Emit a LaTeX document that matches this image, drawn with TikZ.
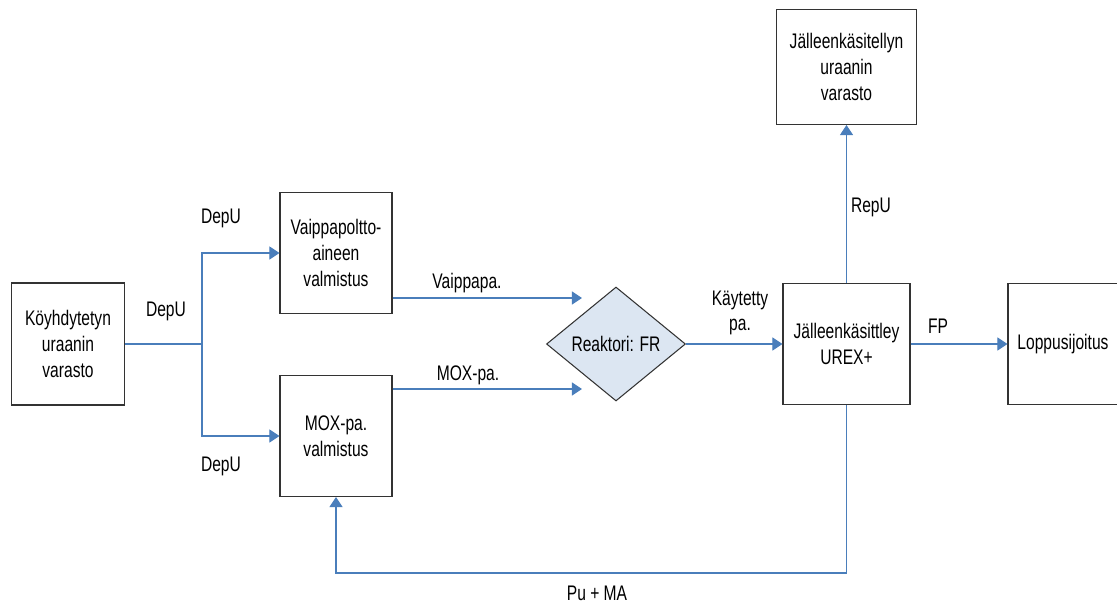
\documentclass[tikz,border=0pt]{standalone}
\usepackage{fontspec}
\setmainfont[FakeStretch=0.74]{Liberation Sans}
\usetikzlibrary{arrows.meta,shapes.geometric,positioning,calc}
\definecolor{flowblue}{RGB}{74,126,187}
\definecolor{reactfill}{RGB}{220,230,242}

\begin{document}
\begin{tikzpicture}[x=0.02cm, y=-0.02cm, font=\fontsize{12}{14.7}\selectfont,
  box/.style={draw=black!80, line width=0.6pt, align=center, inner sep=0pt, minimum width=2.24cm, minimum height=2.42cm},
  flow/.style={draw=flowblue, line width=0.6pt, -{Triangle[length=5.8pt, width=7.5pt, fill=flowblue]}},
  lbl/.style={inner sep=0pt, align=center}]
\useasboundingbox (0,0) rectangle (1117,602);
% laatikot
\node[box, minimum width=2.26cm, minimum height=2.44cm] (koyh) at (68,344) {Köyhdytetyn\\uraanin\\varasto};
\node[box] (vaip) at (336,253) {Vaippapoltto-\\aineen\\valmistus};
\node[box] (mox) at (336,436) {MOX-pa.\\valmistus};
\node[diamond, draw=black!80, fill=reactfill, line width=0.6pt, inner sep=0pt, minimum width=2.78cm, minimum height=2.28cm] (reak) at (616,344) {Reaktori: FR};
\node[box, minimum width=2.54cm] (urex) at (846.5,344) {Jälleenkäsittley\\UREX+};
\node[box, minimum width=2.8cm, minimum height=2.3cm] (repu) at (846.5,67) {Jälleenkäsitellyn\\uraanin\\varasto};
\node[box, minimum width=2.2cm] (lopp) at (1063,344) {Loppusijoitus};
% virrat
\coordinate (haara) at (202,344);
\coordinate (vin) at (582,298);
\coordinate (min) at (582,389);
\coordinate (ala) at (846.5,573);
\draw[flowblue, line width=0.6pt] (koyh) -- (haara);
\draw[flow] (haara) |- (vaip);
\draw[flow] (haara) |- (mox);
\draw[flow] (vin -| vaip.east) -- (vin);
\draw[flow] (min -| mox.east) -- (min);
\draw[flow] (reak) -- (urex);
\draw[flow] (urex) -- (repu);
\draw[flow] (urex) -- (lopp);
\draw[flow] (urex.south) -- (ala) -| (mox.south);
% tekstit
\node[lbl] (d1) at (221,218) {DepU};
\node[lbl] (d2) at (166,311) {DepU};
\node[lbl] (d3) at (221,466) {DepU};
\node[lbl] (t1) at (467,283) {Vaippapa.};
\node[lbl] (t2) at (468,375) {MOX-pa.};
\node[lbl] (t3) at (740,313) {Käytetty\\pa.};
\node[lbl] (t4) at (871,207) {RepU};
\node[lbl] (t5) at (938,326) {FP};
\node[lbl] (t6) at (597,593) {Pu + MA};
\end{tikzpicture}
\end{document}
